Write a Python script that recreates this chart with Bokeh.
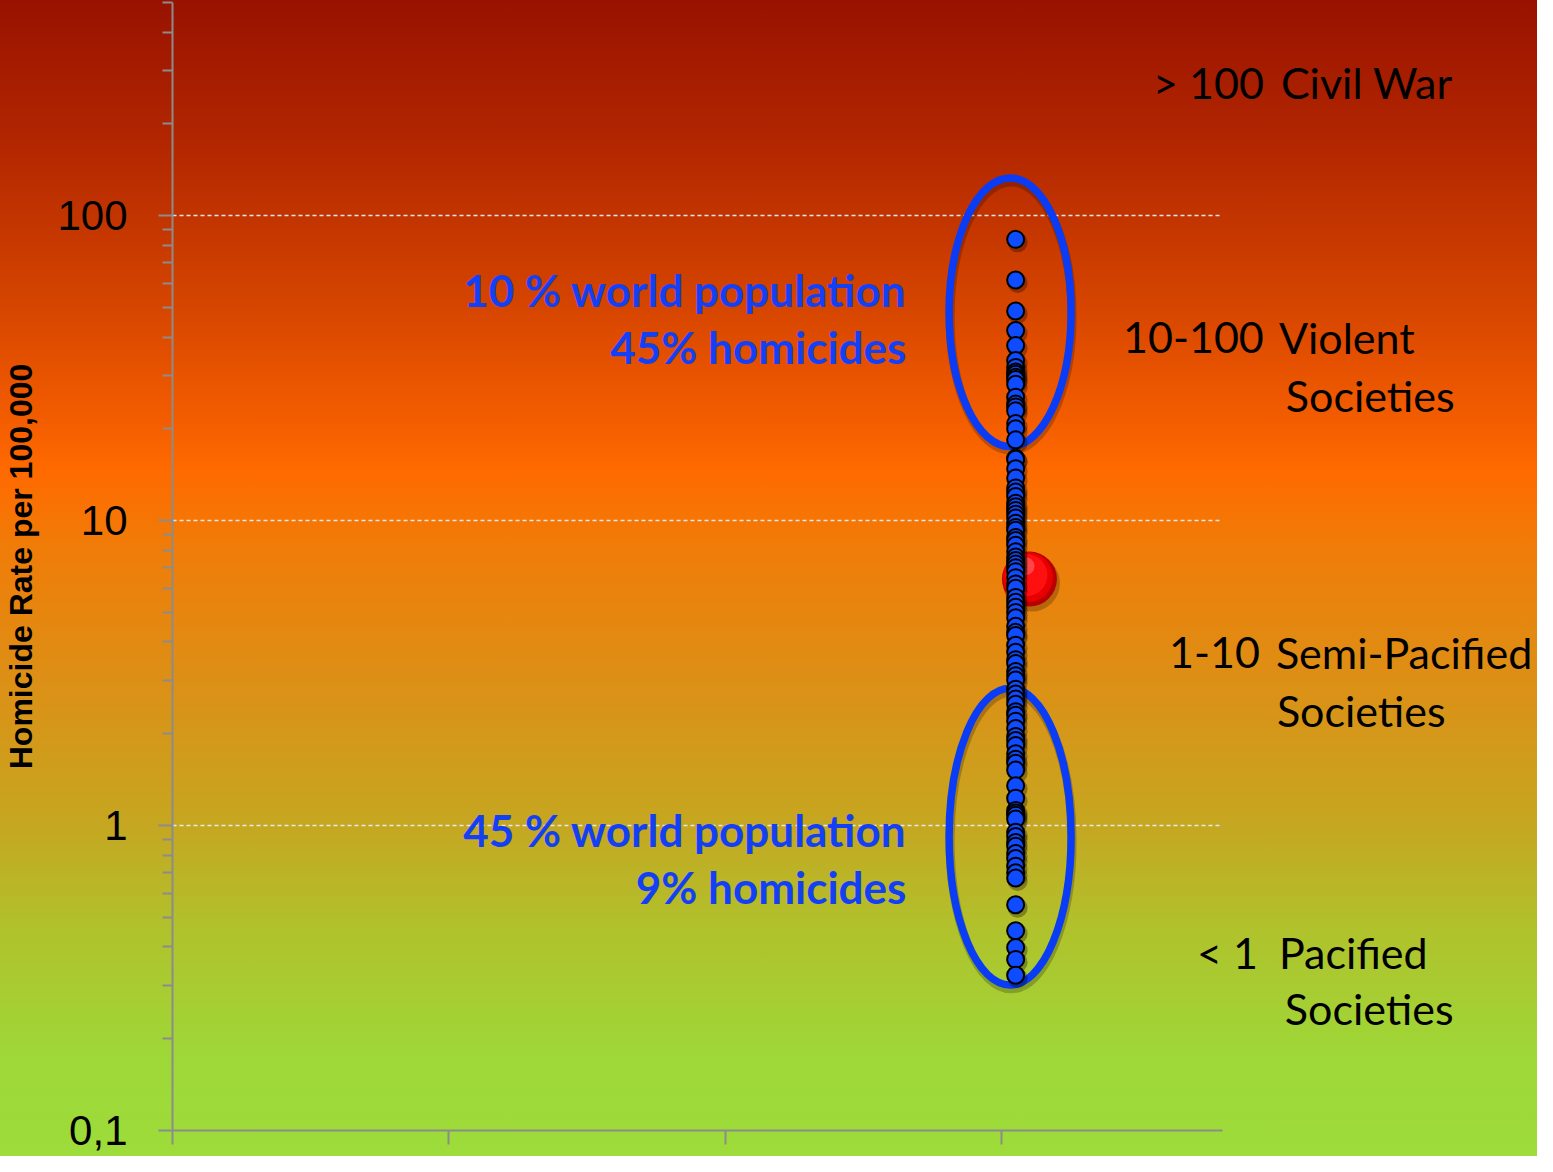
import numpy as np
from bokeh.plotting import figure
from bokeh.models import FixedTicker, CustomJSTickFormatter, Label, Range1d
from bokeh.embed import file_html
from bokeh.resources import INLINE

# ---------------- data ----------------
country_rates = [
    83.6, 61.5, 48.7, 42.0, 37.5, 33.5, 31.8, 30.7, 30.2, 29.5, 29.0, 28.0,
    25.4, 24.1, 23.6, 22.9, 20.8, 20.0, 18.4, 16.0,
    15.9, 14.8, 13.8, 12.8, 12.4, 12.0, 11.4, 11.1, 10.8, 10.5, 10.2,
    9.8, 9.5, 9.3, 8.8, 8.6, 8.3, 7.9, 7.6, 7.4, 7.2, 7.0, 6.8, 6.5, 6.2,
    6.0, 5.6, 5.4, 5.2, 5.0, 4.8, 4.5, 4.3, 4.2, 3.9, 3.7, 3.5, 3.4, 3.2,
    3.1, 3.0, 2.8, 2.7, 2.6, 2.5, 2.36, 2.3, 2.2, 2.08, 1.96, 1.9, 1.83,
    1.72, 1.65, 1.60, 1.52, 1.35, 1.23, 1.12, 1.1, 1.08, 1.05, 0.95, 0.92,
    0.88, 0.855, 0.81, 0.78, 0.736, 0.7, 0.673, 0.55, 0.452, 0.398, 0.364,
    0.323,
]
country_x = 3.05
world_average = 6.43
world_x = 3.1

violent_group = (17.5, 133.0)     # ellipse bounds (rate)
pacified_group = (0.30, 2.82)
group_x = 3.03

x_ticks = [0, 1, 2, 3]
y_ticks = [0.1, 1, 10, 100]
y_tick_labels = ["0,1", "1", "10", "100"]
x_min, x_max = 0.0, 3.8
y_min, y_max = 0.1, 500.0

# ---------------- layout (reference pixel geometry) ----------------
FRAME_L, FRAME_R, FRAME_T, FRAME_B = 180, 1232, 12, 1150   # reference pixels
PPD = (FRAME_B - FRAME_T) / np.log10(y_max / y_min)          # pixels per decade
PPX = (FRAME_R - FRAME_L) / (x_max - x_min)


def x_at(px):
    return x_min + (px - FRAME_L) / PPX


def y_at(py):
    return 10 ** (np.log10(y_max) - (py - FRAME_T) / PPD)


W, H = 1537, 1156
SHIFT_X = 10
TOP, BOTTOM = 2, 1130
x_view_max = x_at(W + SHIFT_X)

p = figure(
    width=W, height=H, y_axis_type="log",
    x_range=Range1d(x_min, x_view_max), y_range=Range1d(y_min, y_max),
    output_backend="svg", toolbar_location=None,
    min_border_left=FRAME_L - SHIFT_X, min_border_right=0,
    min_border_top=TOP, min_border_bottom=H - BOTTOM,
)
p.background_fill_alpha = 0
p.border_fill_alpha = 0
p.outline_line_color = None
p.styles = {
    "background": "linear-gradient(180deg, #981200 0px, #B22600 142px, #D24200 290px, "
                  "#F05A00 408px, #FF6A00 472px, #F07C08 546px, #DC9016 684px, "
                  "#C6A620 822px, #B0C22C 930px, #9ED838 1060px, #9DDC3A 1156px)"
}

# axes
minor = [m * k for m in y_ticks for k in range(2, 10) if m * k <= y_max]
yt = FixedTicker(ticks=y_ticks, minor_ticks=minor)
p.yaxis.ticker = yt
p.ygrid.ticker = yt
p.yaxis.formatter = CustomJSTickFormatter(
    args=dict(tick_values=y_ticks, tick_labels=y_tick_labels),
    code="""
    let best = 0, d = 1e9;
    for (let j = 0; j < tick_values.length; j++) {
      const dd = Math.abs(Math.log10(tick) - Math.log10(tick_values[j]));
      if (dd < d) { d = dd; best = j; }
    }
    return tick_labels[best];
    """,
)
for ax in (p.yaxis[0], p.xaxis[0]):
    ax.axis_line_color = "#8C8C8C"
    ax.axis_line_width = 2
    ax.major_tick_line_color = "#8C8C8C"
    ax.major_tick_line_width = 2
    ax.minor_tick_line_color = "#8C8C8C"
    ax.minor_tick_line_width = 2
    ax.major_tick_in = 0
    ax.major_tick_out = 14
    ax.minor_tick_in = 0

p.yaxis.minor_tick_out = 10
p.yaxis.major_label_text_font = "Liberation Sans"
p.yaxis.major_label_text_font_size = "42px"
p.yaxis.major_label_text_color = "black"
p.yaxis.major_label_standoff = 31
p.yaxis.axis_label = "Homicide Rate per 100,000"
p.yaxis.axis_label_text_font = "Liberation Sans"
p.yaxis.axis_label_text_font_style = "bold"
p.yaxis.axis_label_text_font_size = "32px"
p.yaxis.axis_label_text_color = "black"
p.yaxis.axis_label_standoff = 15

p.xaxis.ticker = FixedTicker(ticks=x_ticks, minor_ticks=[])
p.xaxis.bounds = (x_min, x_max)
p.xaxis.minor_tick_out = 0
p.xaxis.major_label_text_font_size = "1px"
p.xaxis.major_label_text_alpha = 0
p.xaxis.major_label_standoff = 0

p.xgrid.visible = False
grid = p.ygrid[0]
if "cross_bounds" in grid.properties():
    grid.cross_bounds = (x_min, x_max)
    grid.grid_line_color = "#E8E8E8"
    grid.grid_line_width = 1.5
    grid.grid_line_dash = "4 3"
else:
    grid.visible = False
    gy = [t for t in y_ticks if t > y_min]
    p.segment(x0=[x_min] * len(gy), x1=[x_max] * len(gy), y0=gy, y1=gy,
              line_color="#E8E8E8", line_width=1.5, line_dash="4 3", level="underlay")

# ellipses (screen-unit sizes, vertical extent from the group bounds)
for lo, hi in (violent_group, pacified_group):
    cy = np.sqrt(lo * hi)
    h_px = np.log10(hi / lo) * PPD * (BOTTOM - TOP) / (FRAME_B - FRAME_T)
    p.ellipse(x=[group_x + 1 / PPX], y=[cy * 10 ** (-4 / PPD)], width=122, height=h_px,
              width_units="screen", height_units="screen",
              fill_color=None, line_color="black", line_alpha=0.22, line_width=9)
    p.ellipse(x=[group_x], y=[cy], width=122, height=h_px,
              width_units="screen", height_units="screen",
              fill_color=None, line_color="#0A3CF5", line_width=7.5)

# world average ball
p.scatter(x=[world_x + 2 / PPX], y=[world_average * 10 ** (-4 / PPD)], size=57,
          fill_color="black", fill_alpha=0.22, line_color=None)
p.scatter(x=[world_x], y=[world_average], size=55, fill_color="#B80000", line_color=None)
p.scatter(x=[world_x - 1.5 / PPX], y=[world_average * 10 ** (2 / PPD)], size=50,
          fill_color="#E80000", line_color=None)
p.scatter(x=[world_x - 3 / PPX], y=[world_average * 10 ** (4 / PPD)], size=42,
          fill_color="#FF1010", line_color=None)
p.scatter(x=[world_x - 4 / PPX], y=[world_average * 10 ** (13 / PPD)], size=18,
          fill_color="#FF7A7A", fill_alpha=0.5, line_color=None)

# countries
rates = np.array(country_rates)
xs = np.full(len(rates), country_x)
p.scatter(x=xs + 2 / PPX, y=rates * 10 ** (-3 / PPD), size=20,
          fill_color="black", fill_alpha=0.3, line_color=None)
p.scatter(x=xs, y=rates, size=17, fill_color="#0F4BFF", line_color="black", line_width=2)

# blue annotations (baseline in reference pixels; Bokeh draws ~18px lower)
BASE_FIX = 18
for txt, py in (("10 % world population", 320), ("45% homicides", 378),
                ("45 % world population", 865), ("9% homicides", 922)):
    p.add_layout(Label(x=x_at(915), y=y_at(py - BASE_FIX), text=txt, text_align="right",
                       text_baseline="alphabetic", text_font="Lato",
                       text_font_style="bold", text_font_size="44px",
                       text_color="#1440F5"))

# band labels on the right
band_texts = [
    ("> 100", 1162, 111), ("Civil War", 1290, 111),
    ("10-100", 1132, 368), ("Violent", 1288, 368), ("Societies", 1295, 426),
    ("1-10", 1178, 686), ("Semi-Pacified", 1285, 686), ("Societies", 1286, 744),
    ("< 1", 1206, 988), ("Pacified", 1288, 988), ("Societies", 1294, 1045),
]
for txt, px, py in band_texts:
    p.add_layout(Label(x=x_at(px), y=y_at(py - BASE_FIX), text=txt, text_align="left",
                       text_baseline="alphabetic", text_font="Lato",
                       text_font_size="43px", text_color="black"))

open("out.html", "w").write(file_html(p, INLINE))
